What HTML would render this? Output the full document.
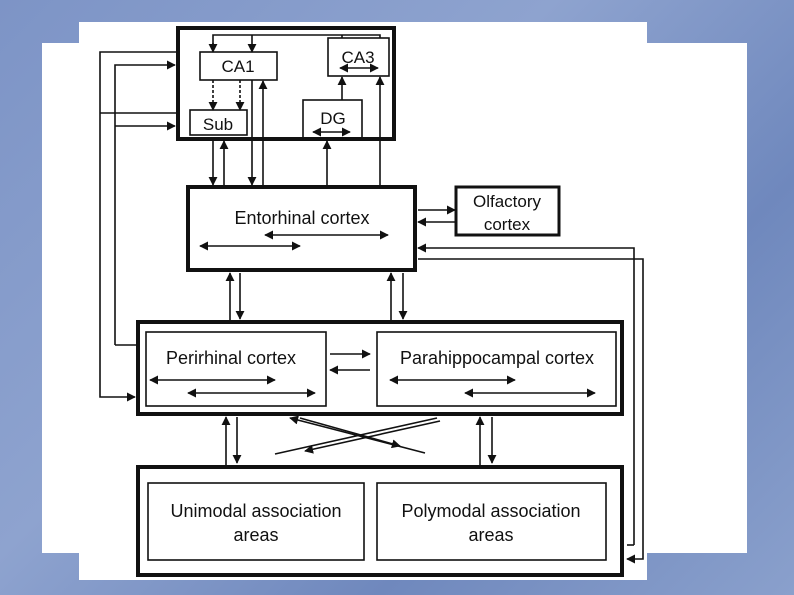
<!DOCTYPE html>
<html><head><style>
html,body{margin:0;padding:0}
body{width:794px;height:595px;overflow:hidden;background:linear-gradient(135deg,#7d94c6 0%,#8ea3cf 40%,#6f88bd 70%,#8aa0cc 100%);}
svg{position:absolute;left:0;top:0}
text{font-family:"Liberation Sans",Arial,sans-serif;fill:#111}
</style></head><body>
<svg width="794" height="595" viewBox="0 0 794 595">
<defs>
<marker id="a" viewBox="0 0 10 10" refX="9" refY="5" markerWidth="9" markerHeight="9" markerUnits="userSpaceOnUse" orient="auto-start-reverse"><path d="M0,0L10,5L0,10z" fill="#111"/></marker>
</defs>
<rect x="79" y="22" width="568" height="558" fill="#fff"/>
<rect x="42" y="43" width="705" height="510" fill="#fff"/>
<g stroke="#111" fill="none" stroke-width="1.6">
<!-- hippocampus -->
<rect x="178" y="28" width="216" height="111" stroke-width="4"/>
<rect x="200" y="52" width="77" height="28"/>
<rect x="190" y="110" width="57" height="25"/>
<rect x="328" y="38" width="61" height="38"/>
<rect x="303" y="100" width="59" height="38"/>
<polyline points="213,50 213,35 380,35 380,38"/>
<line x1="342" y1="35" x2="342" y2="38"/>
<line x1="213" y1="43" x2="213" y2="52" marker-end="url(#a)"/>
<line x1="252" y1="35" x2="252" y2="52" marker-end="url(#a)"/>
<line x1="213" y1="80" x2="213" y2="110" stroke-dasharray="3,2" marker-end="url(#a)"/>
<line x1="240" y1="80" x2="240" y2="110" stroke-dasharray="3,2" marker-end="url(#a)"/>
<line x1="340" y1="68" x2="378" y2="68" marker-start="url(#a)" marker-end="url(#a)"/>
<line x1="313" y1="132" x2="350" y2="132" marker-start="url(#a)" marker-end="url(#a)"/>
<line x1="342" y1="100" x2="342" y2="77" marker-end="url(#a)"/>
<line x1="380" y1="185" x2="380" y2="77" marker-end="url(#a)"/>
<line x1="327" y1="185" x2="327" y2="141" marker-end="url(#a)"/>
<line x1="263" y1="185" x2="263" y2="81" marker-end="url(#a)"/>
<line x1="252" y1="80" x2="252" y2="185" marker-end="url(#a)"/>
<line x1="213" y1="141" x2="213" y2="185" marker-end="url(#a)"/>
<line x1="224" y1="185" x2="224" y2="141" marker-end="url(#a)"/>
<!-- left feedback lines -->
<polyline points="176,52 100,52 100,397 135,397" marker-end="url(#a)"/>
<polyline points="115,345 115,65 175,65" marker-end="url(#a)"/>
<line x1="100" y1="113" x2="176" y2="113"/>
<line x1="115" y1="126" x2="175" y2="126" marker-end="url(#a)"/>
<line x1="115" y1="345" x2="136" y2="345"/>
<!-- EC -->
<rect x="188" y="187" width="227" height="83" stroke-width="4"/>
<line x1="200" y1="246" x2="300" y2="246" marker-start="url(#a)" marker-end="url(#a)"/>
<line x1="265" y1="235" x2="388" y2="235" marker-start="url(#a)" marker-end="url(#a)"/>
<!-- olfactory -->
<rect x="456" y="187" width="103" height="48" stroke-width="3"/>
<line x1="418" y1="210" x2="455" y2="210" marker-end="url(#a)"/>
<line x1="455" y1="222" x2="418" y2="222" marker-end="url(#a)"/>
<polyline points="634,545 634,248 418,248" marker-end="url(#a)"/>
<line x1="627" y1="545" x2="634" y2="545"/>
<polyline points="418,259 643,259 643,559 627,559" marker-end="url(#a)"/>
<!-- EC to middle -->
<line x1="230" y1="320" x2="230" y2="273" marker-end="url(#a)"/>
<line x1="240" y1="273" x2="240" y2="319" marker-end="url(#a)"/>
<line x1="391" y1="320" x2="391" y2="273" marker-end="url(#a)"/>
<line x1="403" y1="273" x2="403" y2="319" marker-end="url(#a)"/>
<!-- middle -->
<rect x="138" y="322" width="484" height="92" stroke-width="4"/>
<rect x="146" y="332" width="180" height="74"/>
<rect x="377" y="332" width="239" height="74"/>
<line x1="330" y1="354" x2="370" y2="354" marker-end="url(#a)"/>
<line x1="370" y1="370" x2="330" y2="370" marker-end="url(#a)"/>
<line x1="150" y1="380" x2="275" y2="380" marker-start="url(#a)" marker-end="url(#a)"/>
<line x1="188" y1="393" x2="315" y2="393" marker-start="url(#a)" marker-end="url(#a)"/>
<line x1="390" y1="380" x2="515" y2="380" marker-start="url(#a)" marker-end="url(#a)"/>
<line x1="465" y1="393" x2="595" y2="393" marker-start="url(#a)" marker-end="url(#a)"/>
<!-- middle to bottom -->
<line x1="226" y1="465" x2="226" y2="417" marker-end="url(#a)"/>
<line x1="237" y1="417" x2="237" y2="463" marker-end="url(#a)"/>
<line x1="480" y1="465" x2="480" y2="417" marker-end="url(#a)"/>
<line x1="492" y1="417" x2="492" y2="463" marker-end="url(#a)"/>
<line x1="275" y1="454" x2="437" y2="418"/>
<line x1="305" y1="451" x2="440" y2="421" marker-start="url(#a)"/>
<line x1="290" y1="418" x2="425" y2="453" marker-start="url(#a)"/>
<line x1="300" y1="418" x2="400" y2="446" marker-end="url(#a)"/>
<!-- bottom -->
<rect x="138" y="467" width="484" height="108" stroke-width="4"/>
<rect x="148" y="483" width="216" height="77"/>
<rect x="377" y="483" width="229" height="77"/>
</g>
<g font-size="17">
<text x="238" y="72" text-anchor="middle">CA1</text>
<text x="358" y="63" text-anchor="middle">CA3</text>
<text x="218" y="130" text-anchor="middle">Sub</text>
<text x="333" y="124" text-anchor="middle">DG</text>
<text x="302" y="224" text-anchor="middle" font-size="18">Entorhinal cortex</text>
<text x="507" y="207" text-anchor="middle">Olfactory</text>
<text x="507" y="230" text-anchor="middle">cortex</text>
<text x="231" y="364" text-anchor="middle" font-size="18">Perirhinal cortex</text>
<text x="497" y="364" text-anchor="middle" font-size="18">Parahippocampal cortex</text>
<text x="256" y="517" text-anchor="middle" font-size="18">Unimodal association</text>
<text x="256" y="541" text-anchor="middle" font-size="18">areas</text>
<text x="491" y="517" text-anchor="middle" font-size="18">Polymodal association</text>
<text x="491" y="541" text-anchor="middle" font-size="18">areas</text>
</g>
</svg>
</body></html>
